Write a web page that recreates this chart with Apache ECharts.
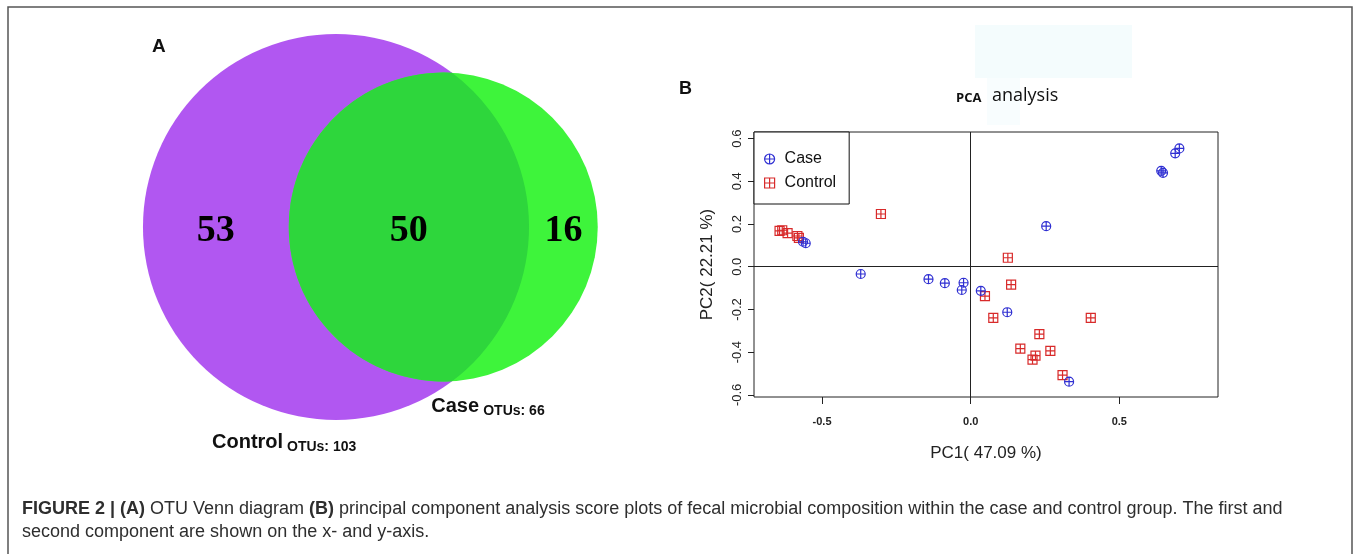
<!DOCTYPE html>
<html>
<head>
<meta charset="utf-8">
<script src="https://cdn.jsdelivr.net/npm/echarts@6/dist/echarts.min.js"></script>
<style>html,body{margin:0;padding:0;background:#fff}#c{width:1360px;height:554px}</style>
</head>
<body>
<div id="c"></div>
<script>
// ---------- Panel A: Venn data ----------
const vennSets = ['Control', 'Case'];
const vennTotals = [103, 66];
const vennCounts = [53, 50, 16]; // Control only, shared, Case only

// ---------- Panel B: PCA scores ----------
const caseX = [-0.564, -0.555, -0.370, -0.142, -0.087, -0.024, -0.030, 0.034, 0.123, 0.331, 0.254, 0.641, 0.647, 0.688, 0.702];
const caseY = [0.117, 0.110, -0.034, -0.058, -0.077, -0.075, -0.109, -0.113, -0.213, -0.538, 0.190, 0.449, 0.440, 0.531, 0.554];
const controlX = [-0.643, -0.634, -0.616, -0.583, -0.578, -0.302, 0.125, 0.136, 0.048, 0.076, 0.404, 0.231, 0.167, 0.218, 0.208, 0.268, 0.309];
const controlY = [0.168, 0.171, 0.157, 0.144, 0.135, 0.247, 0.042, -0.084, -0.138, -0.239, -0.239, -0.316, -0.383, -0.416, -0.435, -0.394, -0.508];
const xTicks = [-0.5, 0, 0.5];
const yTicks = [-0.6, -0.4, -0.2, 0, 0.2, 0.4, 0.6];
const xName = 'PC1( 47.09 %)';
const yName = 'PC2( 22.21 %)';

const BLUE = '#2f2fd2';
const RED = '#d82a2a';
const circlePlus = 'path://M0,-1A1,1 0 1,1 0,1A1,1 0 1,1 0,-1ZM-1,0L1,0M0,-1L0,1';
const squarePlus = 'path://M-1,-1L1,-1L1,1L-1,1ZM-1,0L1,0M0,-1L0,1';

// area-proportional Venn layout
function vennLayout() {
  const k = 19.02;
  const r1 = k * Math.sqrt(vennTotals[0]);
  const r2 = k * Math.sqrt(vennTotals[1]);
  const target = Math.PI * k * k * vennCounts[1];
  function lens(d) {
    const a1 = Math.acos((d * d + r1 * r1 - r2 * r2) / (2 * d * r1));
    const a2 = Math.acos((d * d + r2 * r2 - r1 * r1) / (2 * d * r2));
    const t = Math.sqrt((-d + r1 + r2) * (d + r1 - r2) * (d - r1 + r2) * (d + r1 + r2));
    return r1 * r1 * a1 + r2 * r2 * a2 - 0.5 * t;
  }
  let lo = Math.abs(r1 - r2) + 1e-6, hi = r1 + r2 - 1e-6;
  for (let i = 0; i < 80; i++) {
    const m = (lo + hi) / 2;
    if (lens(m) > target) lo = m; else hi = m;
  }
  return { r1, r2, d: (lo + hi) / 2 };
}
const V = vennLayout();
const vennAnchor = [336, 227];

function renderVenn(params, api) {
  const cx1 = vennAnchor[0], cy = vennAnchor[1];
  const cx2 = cx1 + V.d;
  const p1 = api.coord([cx1, cy]);
  const p2 = api.coord([cx2, cy]);
  const R1 = api.size([V.r1, 0])[0];
  const R2 = api.size([V.r2, 0])[0];
  const D = p2[0] - p1[0];
  const a = (D * D + R1 * R1 - R2 * R2) / (2 * D);
  const h = Math.sqrt(R1 * R1 - a * a);
  const ix = p1[0] + a;
  const lensPath = 'M' + ix + ',' + (p1[1] - h) +
    'A' + R2 + ',' + R2 + ' 0 1,0 ' + ix + ',' + (p1[1] + h) +
    'A' + R1 + ',' + R1 + ' 0 0,0 ' + ix + ',' + (p1[1] - h) + 'Z';
  const xs = [
    ((p1[0] - R1) + (p2[0] - R2)) / 2,
    ((p2[0] - R2) + (p1[0] + R1)) / 2,
    ((p1[0] + R1) + (p2[0] + R2)) / 2
  ];
  const numFont = 'bold 38px "Liberation Serif", "Times New Roman", serif';
  const children = [
    { type: 'circle', shape: { cx: p1[0], cy: p1[1], r: R1 }, style: { fill: '#b157f1' } },
    { type: 'circle', shape: { cx: p2[0], cy: p2[1], r: R2 }, style: { fill: '#3ef43b' } },
    { type: 'path', shape: { pathData: lensPath }, style: { fill: '#2ed63c' } }
  ];
  vennCounts.forEach((v, i) => {
    children.push({ type: 'text', style: { text: String(v), x: xs[i], y: p1[1] + 4, font: numFont, fill: '#000', align: 'center', verticalAlign: 'middle' } });
  });
  const bigFont = 'bold 20px "Liberation Sans", Arial, sans-serif';
  const smallFont = 'bold 14px "Liberation Sans", Arial, sans-serif';
  // Case label
  children.push({ type: 'text', style: { text: vennSets[1], x: p2[0] - 12, y: p1[1] + 179.5, font: bigFont, fill: '#111', align: 'left', verticalAlign: 'middle' } });
  children.push({ type: 'text', style: { text: 'OTUs: ' + vennTotals[1], x: p2[0] + 40, y: p1[1] + 184, font: smallFont, fill: '#111', align: 'left', verticalAlign: 'middle' } });
  // Control label
  children.push({ type: 'text', style: { text: vennSets[0], x: p1[0] - 124, y: p1[1] + 215, font: bigFont, fill: '#111', align: 'left', verticalAlign: 'middle' } });
  children.push({ type: 'text', style: { text: 'OTUs: ' + vennTotals[0], x: p1[0] - 49, y: p1[1] + 220.5, font: smallFont, fill: '#111', align: 'left', verticalAlign: 'middle' } });
  return { type: 'group', children };
}

const chart = echarts.init(document.getElementById('c'), null, { renderer: 'canvas' });
const fontSans = '"Liberation Sans", Arial, sans-serif';

const option = {
  animation: false,
  backgroundColor: '#fff',
  legend: {
    data: ['Case', 'Control'],
    orient: 'vertical',
    left: 754, top: 132,
    padding: [18, 13, 12, 10],
    itemGap: 6,
    itemWidth: 10, itemHeight: 10,
    borderColor: '#111', borderWidth: 1, borderRadius: 0,
    backgroundColor: '#fff',
    itemStyle: { borderWidth: 1.2 },
    textStyle: { fontSize: 16, lineHeight: 18, color: '#111', fontFamily: fontSans, padding: [0, 0, 0, 5] },
    selectedMode: false
  },
  grid: [
    { left: 754, top: 132, width: 464, height: 265, show: true, borderColor: '#222', borderWidth: 1, backgroundColor: 'transparent', containLabel: false },
    { left: 0, top: 0, width: 680, height: 554, show: false }
  ],
  xAxis: [
    {
      type: 'value', gridIndex: 0, min: -0.729, max: 0.832, position: 'bottom',
      name: xName, nameLocation: 'middle', nameGap: 48,
      nameTextStyle: { fontSize: 17, color: '#222', fontFamily: fontSans },
      axisLine: { show: false, onZero: false },
      axisTick: { show: true, inside: false, length: 7, customValues: xTicks, lineStyle: { color: '#222' } },
      axisLabel: { customValues: xTicks, margin: 19, fontSize: 11, fontWeight: 'bold', color: '#222', fontFamily: fontSans, formatter: v => v.toFixed(1) },
      splitLine: { show: false }
    },
    { type: 'value', gridIndex: 1, min: 0, max: 680, show: false }
  ],
  yAxis: [
    {
      type: 'value', gridIndex: 0, min: -0.610, max: 0.631, position: 'left',
      name: yName, nameLocation: 'middle', nameGap: 38, nameRotate: 90,
      nameTextStyle: { fontSize: 17, color: '#222', fontFamily: fontSans },
      axisLine: { show: false, onZero: false },
      axisTick: { show: true, inside: false, length: 6, customValues: yTicks, lineStyle: { color: '#222' } },
      axisLabel: { customValues: yTicks, rotate: 90, margin: 10, fontSize: 13, color: '#222', fontFamily: fontSans, formatter: v => v.toFixed(1) },
      splitLine: { show: false }
    },
    { type: 'value', gridIndex: 1, min: 0, max: 554, inverse: true, show: false }
  ],
  series: [
    {
      type: 'custom', xAxisIndex: 1, yAxisIndex: 1, coordinateSystem: 'cartesian2d',
      data: [[0, 0]], renderItem: renderVenn, silent: true, clip: false
    },
    {
      name: 'Control', type: 'scatter', xAxisIndex: 0, yAxisIndex: 0,
      data: controlX.map((x, i) => [x, controlY[i]]),
      symbol: squarePlus, symbolSize: 9,
      itemStyle: { color: 'transparent', borderColor: RED, borderWidth: 1.2, opacity: 1 },
      emphasis: { disabled: true },
      markLine: {
        silent: true, symbol: 'none', animation: false,
        label: { show: false },
        lineStyle: { color: '#222', width: 1, type: 'solid' },
        data: [{ xAxis: 0 }, { yAxis: 0 }]
      }
    },
    {
      name: 'Case', type: 'scatter', xAxisIndex: 0, yAxisIndex: 0,
      data: caseX.map((x, i) => [x, caseY[i]]),
      symbol: circlePlus, symbolSize: 9,
      itemStyle: { color: 'transparent', borderColor: BLUE, borderWidth: 1.2, opacity: 1 },
      emphasis: { disabled: true }
    }
  ],
  graphic: [
    { type: 'rect', silent: true, z: -10, shape: { x: 975, y: 25, width: 157, height: 53 }, style: { fill: '#f4fcfd' } },
    { type: 'rect', silent: true, z: -10, shape: { x: 987, y: 78, width: 33, height: 47 }, style: { fill: '#f8fdfe' } },
    { type: 'rect', silent: true, z: 100, shape: { x: 8, y: 7, width: 1344, height: 560 }, style: { fill: 'none', stroke: '#555', lineWidth: 1.5 } },
    { type: 'text', silent: true, style: { text: 'A', x: 152, y: 46.7, font: 'bold 19px ' + fontSans, fill: '#111', align: 'left', verticalAlign: 'middle' } },
    { type: 'text', silent: true, style: { text: 'B', x: 679, y: 89.4, font: 'bold 18px ' + fontSans, fill: '#111', align: 'left', verticalAlign: 'middle' } },
    { type: 'text', silent: true, style: { text: 'PCA', x: 956, y: 98.5, font: 'bold 13px "Open Sans", ' + fontSans, fill: '#111', align: 'left', verticalAlign: 'middle' } },
    { type: 'text', silent: true, style: { text: 'analysis', x: 992, y: 96, font: '18px "Open Sans", ' + fontSans, fill: '#111', align: 'left', verticalAlign: 'middle' } },
    { type: 'text', silent: true, style: {
      text: '{b|FIGURE 2 | (A)} OTU Venn diagram {b|(B)} principal component analysis score plots of fecal microbial composition within the case and control group. The first and',
      x: 22, y: 509, fill: '#2e2e2e', fontSize: 18, fontFamily: fontSans, align: 'left', verticalAlign: 'middle',
      rich: { b: { fontWeight: 'bold', fontSize: 18, fontFamily: fontSans, fill: '#2e2e2e' } }
    } },
    { type: 'text', silent: true, style: {
      text: 'second component are shown on the x- and y-axis.',
      x: 22, y: 532, fill: '#2e2e2e', fontSize: 18, fontFamily: fontSans, align: 'left', verticalAlign: 'middle'
    } }
  ]
};
chart.setOption(option);
</script>
</body>
</html>
